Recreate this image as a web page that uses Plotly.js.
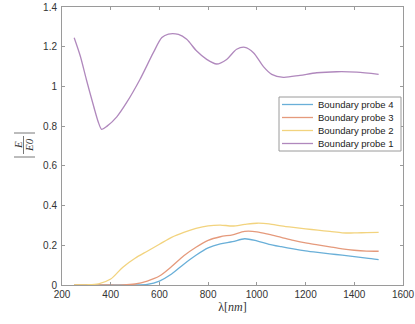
<!DOCTYPE html>
<html>
<head>
<meta charset="utf-8">
<script src="https://cdn.plot.ly/plotly-3.0.1.min.js"></script>
<style>html,body{margin:0;padding:0;background:#fff;}#chart{width:415px;height:324px;}</style>
</head>
<body>
<div id="chart"></div>
<script>
// Probe 1 (own wavelength samples)
const wl1 = [250, 275, 300, 330, 350, 363, 385, 425, 465, 520, 575, 610, 637, 678, 712, 753, 794, 835, 876, 917, 951, 986, 1027, 1061, 1109, 1177, 1246, 1328, 1410, 1500];
const probe1 = [1.245, 1.153, 1.035, 0.90, 0.817, 0.784, 0.80, 0.847, 0.918, 1.035, 1.17, 1.246, 1.264, 1.262, 1.237, 1.178, 1.136, 1.113, 1.136, 1.187, 1.197, 1.170, 1.10, 1.061, 1.046, 1.056, 1.069, 1.074, 1.072, 1.061];

// Probes 2-4 share this grid
const wl = [250, 300, 350, 400, 450, 500, 550, 600, 650, 700, 750, 800, 850, 900, 950, 1000, 1050, 1100, 1150, 1200, 1250, 1300, 1350, 1400, 1450, 1500];
const probe2 = [0, 0.001, 0.006, 0.03, 0.09, 0.135, 0.17, 0.205, 0.24, 0.265, 0.285, 0.298, 0.302, 0.297, 0.305, 0.311, 0.308, 0.298, 0.29, 0.283, 0.276, 0.27, 0.263, 0.262, 0.264, 0.265];
const probe3 = [0, 0, 0, 0, 0, 0.005, 0.02, 0.045, 0.093, 0.147, 0.19, 0.225, 0.243, 0.253, 0.27, 0.268, 0.255, 0.24, 0.225, 0.212, 0.202, 0.192, 0.182, 0.175, 0.171, 0.17];
const probe4 = [0, 0, 0, 0, 0, 0, 0.003, 0.02, 0.055, 0.105, 0.15, 0.187, 0.207, 0.218, 0.233, 0.222, 0.205, 0.193, 0.182, 0.172, 0.164, 0.157, 0.15, 0.143, 0.135, 0.128];

const names = ['Boundary probe 4', 'Boundary probe 3', 'Boundary probe 2', 'Boundary probe 1'];
const colors = ['#69afd8', '#e59a7c', '#f2d37e', '#b088bd'];
const xTicks = [200, 400, 600, 800, 1000, 1200, 1400, 1600];
const yTicks = [0, 0.2, 0.4, 0.6, 0.8, 1, 1.2, 1.4];

const series = [[wl, probe4], [wl, probe3], [wl, probe2], [wl1, probe1]];
const traces = series.map((s, i) => ({
  x: s[0], y: s[1], name: names[i], type: 'scatter', mode: 'lines', showlegend: false,
  line: {color: colors[i], width: 1.3, shape: 'spline', smoothing: 0.8}
}));

const L = 62, R = 12, T = 7, B = 39, W = 415, H = 324;
const pw = W - L - R, ph = H - T - B;
const px = v => (v - L) / pw;
const py = v => (H - B - v) / ph;

const axisCommon = {
  showgrid: false, zeroline: false, showline: true, linecolor: '#9a9a9a', linewidth: 1,
  mirror: 'ticks', ticks: 'inside', ticklen: 3, tickcolor: '#9a9a9a',
  tickfont: {family: 'Liberation Sans, Arial, sans-serif', size: 10, color: '#333'}
};

const serif = 'Liberation Serif, Times New Roman, serif';
const sans = 'Liberation Sans, Arial, sans-serif';

const shapes = [
  {type: 'line', xref: 'paper', yref: 'paper', x0: px(23.5), x1: px(23.5), y0: py(136), y1: py(154), line: {color: '#555', width: 0.8}},
  {type: 'line', xref: 'paper', yref: 'paper', x0: px(14), x1: px(35), y0: py(133), y1: py(133), line: {color: '#555', width: 0.8}},
  {type: 'line', xref: 'paper', yref: 'paper', x0: px(14), x1: px(35), y0: py(157), y1: py(157), line: {color: '#555', width: 0.8}},
  // legend box
  {type: 'rect', xref: 'paper', yref: 'paper', x0: px(279), x1: px(401), y0: py(97), y1: py(151),
   line: {color: '#9a9a9a', width: 1}, fillcolor: '#fff', layer: 'above'}
];
const annotations = [
  {xref: 'paper', yref: 'paper', x: px(18), y: py(145), xanchor: 'center', yanchor: 'middle', text: '<i>E</i>', showarrow: false, textangle: -90,
   font: {family: serif, size: 11, color: '#333'}},
  {xref: 'paper', yref: 'paper', x: px(29), y: py(145), xanchor: 'center', yanchor: 'middle', text: '<i>E0</i>', showarrow: false, textangle: -90,
   font: {family: serif, size: 11, color: '#333'}}
];
names.forEach((n, i) => {
  const yy = 104.5 + i * 13;
  shapes.push({type: 'line', xref: 'paper', yref: 'paper', x0: px(282), x1: px(313), y0: py(yy), y1: py(yy),
    line: {color: colors[i], width: 1.3}, layer: 'above'});
  annotations.push({xref: 'paper', yref: 'paper', x: px(316), y: py(yy), xanchor: 'left', yanchor: 'middle',
    text: n, showarrow: false, font: {family: sans, size: 9.5, color: '#222'}});
});

const layout = {
  width: W, height: H,
  margin: {l: L, r: R, t: T, b: B},
  paper_bgcolor: '#fff', plot_bgcolor: '#fff',
  showlegend: false,
  xaxis: Object.assign({}, axisCommon, {
    range: [200, 1600], tickvals: xTicks, ticktext: xTicks.map(String),
    title: {text: 'λ[<i>nm</i>]', font: {family: serif, size: 12, color: '#333'}, standoff: 2}
  }),
  yaxis: Object.assign({}, axisCommon, {
    range: [0, 1.4], tickvals: yTicks, ticktext: yTicks.map(String), ticklabelstandoff: 2
  }),
  annotations: annotations,
  shapes: shapes
};

Plotly.newPlot('chart', traces, layout, {staticPlot: true, displayModeBar: false});
</script>
</body>
</html>
